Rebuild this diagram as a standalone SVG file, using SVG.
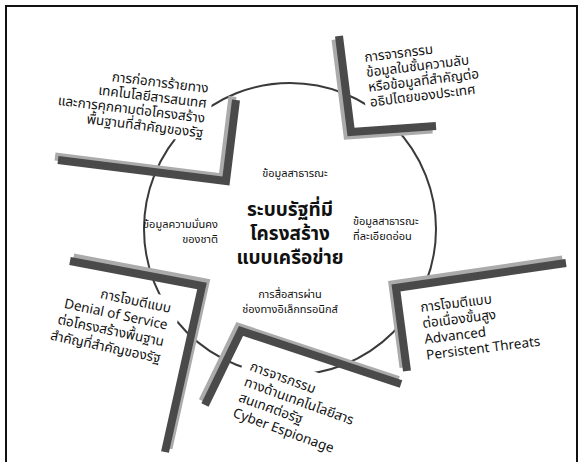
<svg xmlns="http://www.w3.org/2000/svg" width="582" height="462" viewBox="0 0 582 462">
<style>
text{font-family:"Noto Sans Thai","Noto Sans","Liberation Sans",sans-serif;fill:#111}
.lbl{font-size:13.5px}
.sm{font-size:11px}
.title{font-size:19px;font-weight:bold}
.bg{fill:#fff}
.dk{fill:none;stroke:#4a4a4a;stroke-width:8;stroke-linejoin:miter;stroke-linecap:butt}
.lt{fill:none;stroke:#ababab;stroke-width:8;stroke-linejoin:miter;stroke-linecap:butt}
</style>
<rect x="6" y="6" width="571" height="470" fill="#fff" stroke="#111" stroke-width="2"/>
<g id="connectors">
<circle cx="290" cy="229" r="146" fill="none" stroke="#3a3a3a" stroke-width="2"/>
</g>
<g id="center">
<text class="title" x="290" y="216" text-anchor="middle">ระบบรัฐที่มี</text>
<text class="title" x="290" y="240" text-anchor="middle">โครงสร้าง</text>
<text class="title" x="290" y="264" text-anchor="middle">แบบเครือข่าย</text>
</g>
<g id="label-public">
<text class="sm" x="295" y="177" text-anchor="middle">ข้อมูลสาธารณะ</text>
</g>
<g id="label-security">
<text class="sm" x="218" y="228" text-anchor="end">ข้อมูลความมั่นคง</text>
<text class="sm" x="218" y="243" text-anchor="end">ของชาติ</text>
</g>
<g id="label-sensitive">
<text class="sm" x="353" y="225">ข้อมูลสาธารณะ</text>
<text class="sm" x="353" y="240">ที่ละเอียดอ่อน</text>
</g>
<g id="label-comm">
<text class="sm" x="290" y="298" text-anchor="middle">การสื่อสารผ่าน</text>
<text class="sm" x="290" y="313" text-anchor="middle">ช่องทางอิเล็กทรอนิกส์</text>
</g>
<g id="node-terror">
<g transform="translate(208,93) rotate(7)">
<rect class="bg" x="-175" y="-16" width="180" height="66"/>
<text class="lbl" x="0" y="0" text-anchor="end">การก่อการร้ายทาง</text>
<text class="lbl" x="0" y="15" text-anchor="end">เทคโนโลยีสารสนเทศ</text>
<text class="lbl" x="0" y="30" text-anchor="end">และการคุกคามต่อโครงสร้าง</text>
<text class="lbl" x="0" y="45" text-anchor="end">พื้นฐานที่สำคัญของรัฐ</text>
</g>
<polyline class="lt" points="55,156.5 222.5,177.5 232.5,96.5"/>
<polyline class="dk" points="58,160 226,181 236,100"/>
</g>
<g id="node-classified">
<g transform="translate(365,62) rotate(-7)">
<rect class="bg" x="-5" y="-16" width="130" height="82"/>
<text class="lbl" x="0" y="0">การจารกรรม</text>
<text class="lbl" x="0" y="15">ข้อมูลในชั้นความลับ</text>
<text class="lbl" x="0" y="30">หรือข้อมูลที่สำคัญต่อ</text>
<text class="lbl" x="0" y="45">อธิปไตยของประเทศ</text>
</g>
<polyline class="lt" points="335.5,39.5 347.5,135.5 432.5,129.5"/>
<polyline class="dk" points="339,36 351,132 436,126"/>
</g>
<g id="node-apt">
<g transform="translate(421,312) rotate(-7)">
<rect class="bg" x="-20" y="-28" width="145" height="84"/>
<text class="lbl" x="0" y="0">การโจมตีแบบ</text>
<text class="lbl" x="0" y="16">ต่อเนื่องขั้นสูง</text>
<text class="lbl" x="0" y="32">Advanced</text>
<text class="lbl" x="0" y="48">Persistent Threats</text>
</g>
<polyline class="lt" points="562.5,259.5 392.5,284.5 403.5,367.5"/>
<polyline class="dk" points="566,263 396,288 407,371"/>
</g>
<g id="node-espionage">
<g transform="translate(249,370) rotate(20)">
<rect class="bg" x="-8" y="-21" width="140" height="78"/>
<text class="lbl" x="0" y="0">การจารกรรม</text>
<text class="lbl" x="0" y="16.5">ทางด้านเทคโนโลยีสาร</text>
<text class="lbl" x="0" y="33">สนเทศต่อรัฐ</text>
<text class="lbl" x="0" y="49.5">Cyber Espionage</text>
</g>
<polyline class="lt" points="202.5,401 238.5,327 398.5,380"/>
<polyline class="dk" points="205,405 241,331 401,384"/>
</g>
<g id="node-dos">
<g transform="translate(170,313) rotate(12)">
<rect class="bg" x="-135" y="-16" width="144" height="74"/>
<text class="lbl" x="0" y="0" text-anchor="end">การโจมตีแบบ</text>
<text class="lbl" x="0" y="17" text-anchor="end">Denial of Service</text>
<text class="lbl" x="0" y="34" text-anchor="end">ต่อโครงสร้างพื้นฐาน</text>
<text class="lbl" x="0" y="51" text-anchor="end">สำคัญที่สำคัญของรัฐ</text>
</g>
<polyline class="lt" points="73.5,257.5 205.5,282.5 168.5,448.5"/>
<polyline class="dk" points="70,261 202,286 165,452"/>
</g>
</svg>
